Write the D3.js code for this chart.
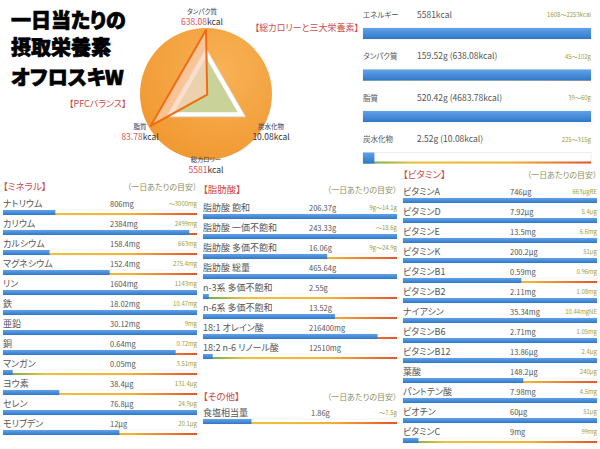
<!DOCTYPE html>
<html>
<head>
<meta charset="utf-8">
<script src="https://cdn.jsdelivr.net/npm/d3@7"></script>
<style>
  body { margin: 0; background: #fff; }
  svg { display: block; font-family: "Noto Sans CJK JP", "Noto Sans", sans-serif; font-feature-settings: "palt"; }
</style>
</head>
<body>
<script>
// --- data ---
var titleLines = ["一日当たりの", "摂取栄養素", "オフロスキW"];

// top right: calories + macro nutrients
var topNames   = ["エネルギー", "タンパク質", "脂質", "炭水化物"];
var topValues  = ["5581kcal", "159.52g (638.08kcal)", "520.42g (4683.78kcal)", "2.52g (10.08kcal)"];
var topTargets = ["1608～2253kcal", "45～102g", "39～60g", "225～315g"];
var topFill    = [1, 1, 1, 0.05];

// PFC radar (order: clockwise from top)
var radarNames  = ["タンパク質", "炭水化物", "脂質"];
var radarKcal   = ["638.08", "10.08", "83.78"];
var radarActual = [1.4, 0.03, 1.4];
var radarUpper  = [1, 1, 1];
var radarLower  = [0.8, 0.8, 0.8];
var totalName = "総カロリー", totalKcal = "5581";

var mineralNames   = ["ナトリウム", "カリウム", "カルシウム", "マグネシウム", "リン", "鉄", "亜鉛", "銅", "マンガン", "ヨウ素", "セレン", "モリブデン"];
var mineralValues  = ["806mg", "2384mg", "158.4mg", "152.4mg", "1604mg", "18.02mg", "30.12mg", "0.64mg", "0.05mg", "38.4μg", "76.8μg", "12μg"];
var mineralTargets = ["～3000mg", "2499mg", "663mg", "275.4mg", "1143mg", "10.47mg", "9mg", "0.72mg", "3.51mg", "131.4μg", "24.9μg", "20.1μg"];
var mineralFill    = [0.27, 0.96, 0.24, 0.55, 1, 1, 1, 0.89, 0.05, 0.29, 1, 0.6];

var fatNames   = ["脂肪酸 飽和", "脂肪酸 一価不飽和", "脂肪酸 多価不飽和", "脂肪酸 総量", "n-3系 多価不飽和", "n-6系 多価不飽和", "18:1 オレイン酸", "18:2 n-6 リノール酸"];
var fatValues  = ["206.37g", "243.33g", "16.06g", "465.64g", "2.55g", "13.52g", "216400mg", "12510mg"];
var fatTargets = ["9g～14.1g", "～18.6g", "9g～24.9g", "", "", "", "", ""];
var fatFill    = [1, 1, 0.64, 1, 0.03, 0.68, 0.9, 0.05];

var otherNames   = ["食塩相当量"];
var otherValues  = ["1.86g"];
var otherTargets = ["～7.5g"];
var otherFill    = [0.25];

var vitaminNames   = ["ビタミンA", "ビタミンD", "ビタミンE", "ビタミンK", "ビタミンB1", "ビタミンB2", "ナイアシン", "ビタミンB6", "ビタミンB12", "葉酸", "パントテン酸", "ビオチン", "ビタミンC"];
var vitaminValues  = ["746μg", "7.92μg", "13.5mg", "200.2μg", "0.59mg", "2.11mg", "35.34mg", "2.71mg", "13.86μg", "148.2μg", "7.98mg", "60μg", "9mg"];
var vitaminTargets = ["663μgRE", "5.4μg", "6.6mg", "51μg", "0.96mg", "1.08mg", "10.44mgNE", "1.05mg", "2.4μg", "240μg", "4.5mg", "51μg", "99mg"];
var vitaminFill    = [1, 1, 1, 1, 0.61, 1, 1, 1, 1, 0.62, 1, 1, 0.08];

var sectionNote = "（一日あたりの目安）";

// --- drawing ---
var width = 600, height = 449;
var red = "#cc4a4a", olive = "#98a048", textGray = "#555";

var svg = d3.select("body").append("svg")
    .attr("width", width)
    .attr("height", height);

var defs = svg.append("defs");
var blueGrad = defs.append("linearGradient").attr("id", "blue")
    .attr("x1", 0).attr("y1", 0).attr("x2", 0).attr("y2", 1);
blueGrad.append("stop").attr("offset", "0%").attr("stop-color", "#62a2e8");
blueGrad.append("stop").attr("offset", "100%").attr("stop-color", "#2f78c8");

var trackGrad = defs.append("linearGradient").attr("id", "track");
trackGrad.append("stop").attr("offset", "0%").attr("stop-color", "#5aa85a");
trackGrad.append("stop").attr("offset", "22%").attr("stop-color", "#eec23a");
trackGrad.append("stop").attr("offset", "65%").attr("stop-color", "#f2b234");
trackGrad.append("stop").attr("offset", "100%").attr("stop-color", "#e6542a");

var pieGrad = defs.append("radialGradient").attr("id", "pie")
    .attr("cx", "62%").attr("cy", "32%").attr("r", "80%");
pieGrad.append("stop").attr("offset", "0%").attr("stop-color", "#f8b256");
pieGrad.append("stop").attr("offset", "100%").attr("stop-color", "#f0962e");

// title
svg.append("g").selectAll("text")
    .data(titleLines)
    .enter().append("text")
      .attr("x", 11)
      .attr("y", function(d, i) { return [21, 48, 78][i]; })
      .attr("dy", "0.36em")
      .style("font-size", "20px")
      .style("font-weight", "900")
      .attr("fill", "#000")
      .attr("stroke", "#000")
      .attr("stroke-width", 0.7)
      .text(function(d) { return d; });

// --- PFC radar ---
var cx = 206, cy = 94;
var radar = svg.append("g").attr("transform", "translate(" + cx + "," + cy + ")");
var r = d3.scaleLinear().domain([0, 1.4]).range([0, 64]);
var angle = function(d, i) { return i * 2 * Math.PI / 3; };
var radial = d3.lineRadial().angle(angle).radius(function(d) { return r(d); }).curve(d3.curveLinearClosed);

radar.append("circle").attr("r", 66).attr("fill", "url(#pie)");
radar.append("path").attr("d", radial(radarUpper))
    .attr("fill", "#fff").attr("stroke", "#d8d8d8").attr("stroke-width", 0.8);
radar.append("path").attr("d", radial(radarLower))
    .attr("fill", "#bcc77e").attr("fill-opacity", 0.8);
radar.append("path").attr("d", radial(radarActual))
    .attr("fill", "#fbd0b8").attr("fill-opacity", 0.7)
    .attr("stroke", "#f26c12").attr("stroke-width", 2).attr("stroke-linejoin", "round");

var labelPos = [[-4, -75], [65, 40], [-66, 40]];
var rlab = radar.selectAll(".rlab")
    .data(radarNames)
    .enter().append("g")
      .attr("class", "rlab")
      .attr("transform", function(d, i) { return "translate(" + labelPos[i][0] + "," + labelPos[i][1] + ")"; });
rlab.append("text")
    .attr("text-anchor", "middle")
    .attr("y", -5)
    .style("font-size", "6.5px")
    .attr("fill", "#2c3a66")
    .text(function(d) { return d; });
var rval = rlab.append("text")
    .attr("text-anchor", "middle")
    .attr("y", 6)
    .style("font-size", "8.5px");
rval.append("tspan")
    .attr("fill", function(d, i) { return radarActual[i] > radarUpper[i] ? "#e0505a" : "#333"; })
    .text(function(d, i) { return radarKcal[i]; });
rval.append("tspan").attr("fill", "#333").text("kcal");

var tot = radar.append("g").attr("transform", "translate(0,73)");
tot.append("text").attr("text-anchor", "middle").attr("y", -5)
    .style("font-size", "6.5px").attr("fill", "#2c3a66").text(totalName);
var totv = tot.append("text").attr("text-anchor", "middle").attr("y", 6).style("font-size", "8.5px");
totv.append("tspan").attr("fill", "#e0505a").text(totalKcal);
totv.append("tspan").attr("fill", "#333").text("kcal");

svg.append("text").attr("x", 69).attr("y", 104).attr("dy", "0.35em")
    .style("font-size", "9px").attr("fill", red).text("【PFCバランス】");
svg.append("text").attr("x", 359).attr("y", 28).attr("dy", "0.35em").attr("text-anchor", "end")
    .style("font-size", "9px").attr("fill", red).text("【総カロリーと三大栄養素】");

// --- top macro bars ---
(function() {
  var x = d3.scaleLinear().domain([0, 1]).range([363, 591]);
  var y = d3.scalePoint().domain(topNames).range([15, 139.5]);
  var row = svg.selectAll(".top")
      .data(topNames)
      .enter().append("g")
        .attr("class", "top")
        .attr("transform", function(d) { return "translate(0," + y(d) + ")"; });
  row.append("text").attr("x", 363).attr("dy", "0.35em")
      .style("font-size", "7.5px").attr("fill", textGray).text(function(d) { return d; });
  row.append("text").attr("x", 417).attr("dy", "0.35em")
      .style("font-size", "8.5px").attr("fill", textGray).text(function(d, i) { return topValues[i]; });
  row.append("text").attr("x", 591).attr("dy", "0.35em").attr("text-anchor", "end")
      .style("font-size", "6px").attr("fill", olive).text(function(d, i) { return topTargets[i]; });
  row.append("rect").attr("x", x(0)).attr("y", 13).attr("width", x(1) - x(0)).attr("height", 11)
      .attr("fill", "#fff").attr("stroke", "#e2e2e2").attr("stroke-width", 0.6);
  row.append("rect").attr("x", x(0)).attr("y", 22).attr("width", x(1) - x(0)).attr("height", 2)
      .attr("fill", "url(#track)");
  row.append("rect").attr("x", x(0)).attr("y", 13)
      .attr("width", function(d, i) { return x(topFill[i]) - x(0); })
      .attr("height", 11).attr("fill", "url(#blue)");
})();

// --- list panels ---
function header(title, x0, x1, yc) {
  svg.append("text").attr("x", x0).attr("y", yc).attr("dy", "0.35em")
      .style("font-size", "9.5px").attr("fill", red).text(title);
  svg.append("text").attr("x", x1).attr("y", yc).attr("dy", "0.35em").attr("text-anchor", "end")
      .style("font-size", "8px").attr("fill", "#8e8e58").text(sectionNote);
}

function drawList(names, values, targets, fill, x0, x1, valueX, yFirst, yLast) {
  var x = d3.scaleLinear().domain([0, 1]).range([x0, x1]);
  var y = d3.scalePoint().domain(names).range([yFirst, yLast]);
  var row = svg.append("g").selectAll("g")
      .data(names)
      .enter().append("g")
        .attr("transform", function(d) { return "translate(0," + y(d) + ")"; });
  row.append("text").attr("x", x0).attr("dy", "0.35em")
      .style("font-size", "9px").attr("fill", textGray).text(function(d) { return d; });
  row.append("text").attr("x", valueX).attr("dy", "0.35em")
      .style("font-size", "7.5px").attr("fill", textGray).text(function(d, i) { return values[i]; });
  row.append("text").attr("x", x1).attr("dy", "0.35em").attr("text-anchor", "end")
      .style("font-size", "6px").attr("fill", olive).text(function(d, i) { return targets[i]; });
  row.append("rect").attr("x", x0).attr("y", 6).attr("width", x1 - x0).attr("height", 5)
      .attr("fill", "#fff").attr("stroke", "#e6e6e6").attr("stroke-width", 0.5);
  row.append("rect").attr("x", x0).attr("y", 9).attr("width", x1 - x0).attr("height", 2)
      .attr("fill", "url(#track)");
  row.append("rect").attr("x", x0).attr("y", 6)
      .attr("width", function(d, i) { return x(fill[i]) - x0; })
      .attr("height", 5).attr("fill", "url(#blue)");
}

header("【ミネラル】", 3, 197, 187);
drawList(mineralNames, mineralValues, mineralTargets, mineralFill, 3, 197, 110, 204, 424);

header("【脂肪酸】", 203, 397, 190);
drawList(fatNames, fatValues, fatTargets, fatFill, 203, 397, 309, 208, 348);

header("【その他】", 203, 397, 397);
drawList(otherNames, otherValues, otherTargets, otherFill, 203, 397, 311, 413, 413);

header("【ビタミン】", 403, 597, 175);
drawList(vitaminNames, vitaminValues, vitaminTargets, vitaminFill, 403, 597, 510, 192, 432);
</script>
</body>
</html>
